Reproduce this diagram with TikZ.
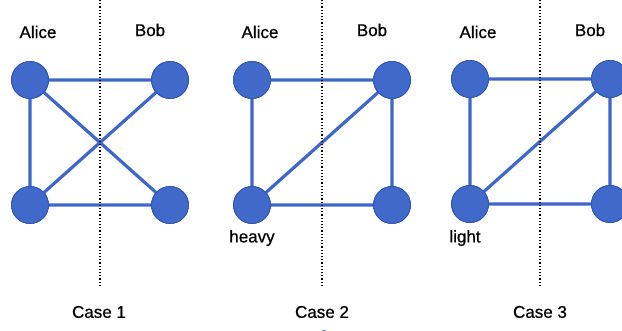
\documentclass[tikz,border=0pt]{standalone}
\usepackage{fontspec}
\setmainfont{Liberation Sans}
\newfontfamily\lblfont[FakeBold=0.7]{Liberation Sans}
\definecolor{nodeblue}{HTML}{4169C9}
\definecolor{edgeblue}{HTML}{3F67C8}
\definecolor{rimblue}{HTML}{2F55B0}
\begin{document}
\begin{tikzpicture}[x=1pt,y=-1pt,
  vert/.style={circle,fill=nodeblue,draw=rimblue,line width=0.8pt,minimum size=37pt,inner sep=0pt},
  edge/.style={draw=edgeblue,line width=3.2pt},
  divider/.style={draw=black,line width=1.6pt,dash pattern=on 1.2pt off 2pt},
  lbl/.style={font=\lblfont\fontsize{17}{20}\selectfont,text=black,inner sep=0pt}]
\useasboundingbox (0,0) rectangle (622,331);
\clip (0,0) rectangle (622,331);
% Case 1
\node[vert] (a1) at (30,80) {};
\node[vert] (b1) at (170,80) {};
\node[vert] (c1) at (30,205) {};
\node[vert] (d1) at (170,205) {};
% Case 2
\node[vert] (a2) at (252,80) {};
\node[vert] (b2) at (392,80) {};
\node[vert] (c2) at (252,205) {};
\node[vert] (d2) at (392,205) {};
% Case 3
\node[vert] (a3) at (470,79) {};
\node[vert] (b3) at (610,79) {};
\node[vert] (c3) at (470,204) {};
\node[vert] (d3) at (610,204) {};
% edges drawn center to center, then nodes redrawn on top
\path[edge] (a1.center) -- (b1.center) (a1.center) -- (c1.center) (a1.center) -- (d1.center)
  (c1.center) -- (b1.center) (c1.center) -- (d1.center);
\path[edge] (a2.center) -- (b2.center) (a2.center) -- (c2.center) (c2.center) -- (b2.center)
  (c2.center) -- (d2.center) (b2.center) -- (d2.center);
\path[edge] (a3.center) -- (b3.center) (a3.center) -- (c3.center) (c3.center) -- (b3.center)
  (c3.center) -- (d3.center) (b3.center) -- (d3.center);
\foreach \n in {a1,b1,c1,d1,a2,b2,c2,d2,a3,b3,c3,d3}{
  \path[fill=nodeblue,draw=rimblue,line width=0.8pt] (\n.center) circle (18.5pt);
}
% dividers (on top of edges)
\foreach \i/\x in {1/100,2/322,3/540}{
  \coordinate (dt\i) at (\x,0);
  \coordinate (db\i) at (\x,286);
  \path[divider] (dt\i) -- (db\i);
}
% labels
\node[lbl] (al1) at (38,32) {Alice};
\node[lbl] (bo1) at (150,30) {Bob};
\node[lbl] (ca1) at (99,312) {Case 1};
\node[lbl] (al2) at (260,32) {Alice};
\node[lbl] (bo2) at (372,30) {Bob};
\node[lbl] (hv) at (252,238) {heavy};
\node[lbl] (ca2) at (322,312) {Case 2};
\node[lbl] (al3) at (478,32) {Alice};
\node[lbl] (bo3) at (590,30) {Bob};
\node[lbl] (lt) at (465,238) {light};
\node[lbl] (ca3) at (540,312) {Case 3};
% small cropped blue mark at bottom
\node[circle,fill=nodeblue,inner sep=0pt,minimum size=8pt] (blip) at (324,334) {};
\end{tikzpicture}
\end{document}
